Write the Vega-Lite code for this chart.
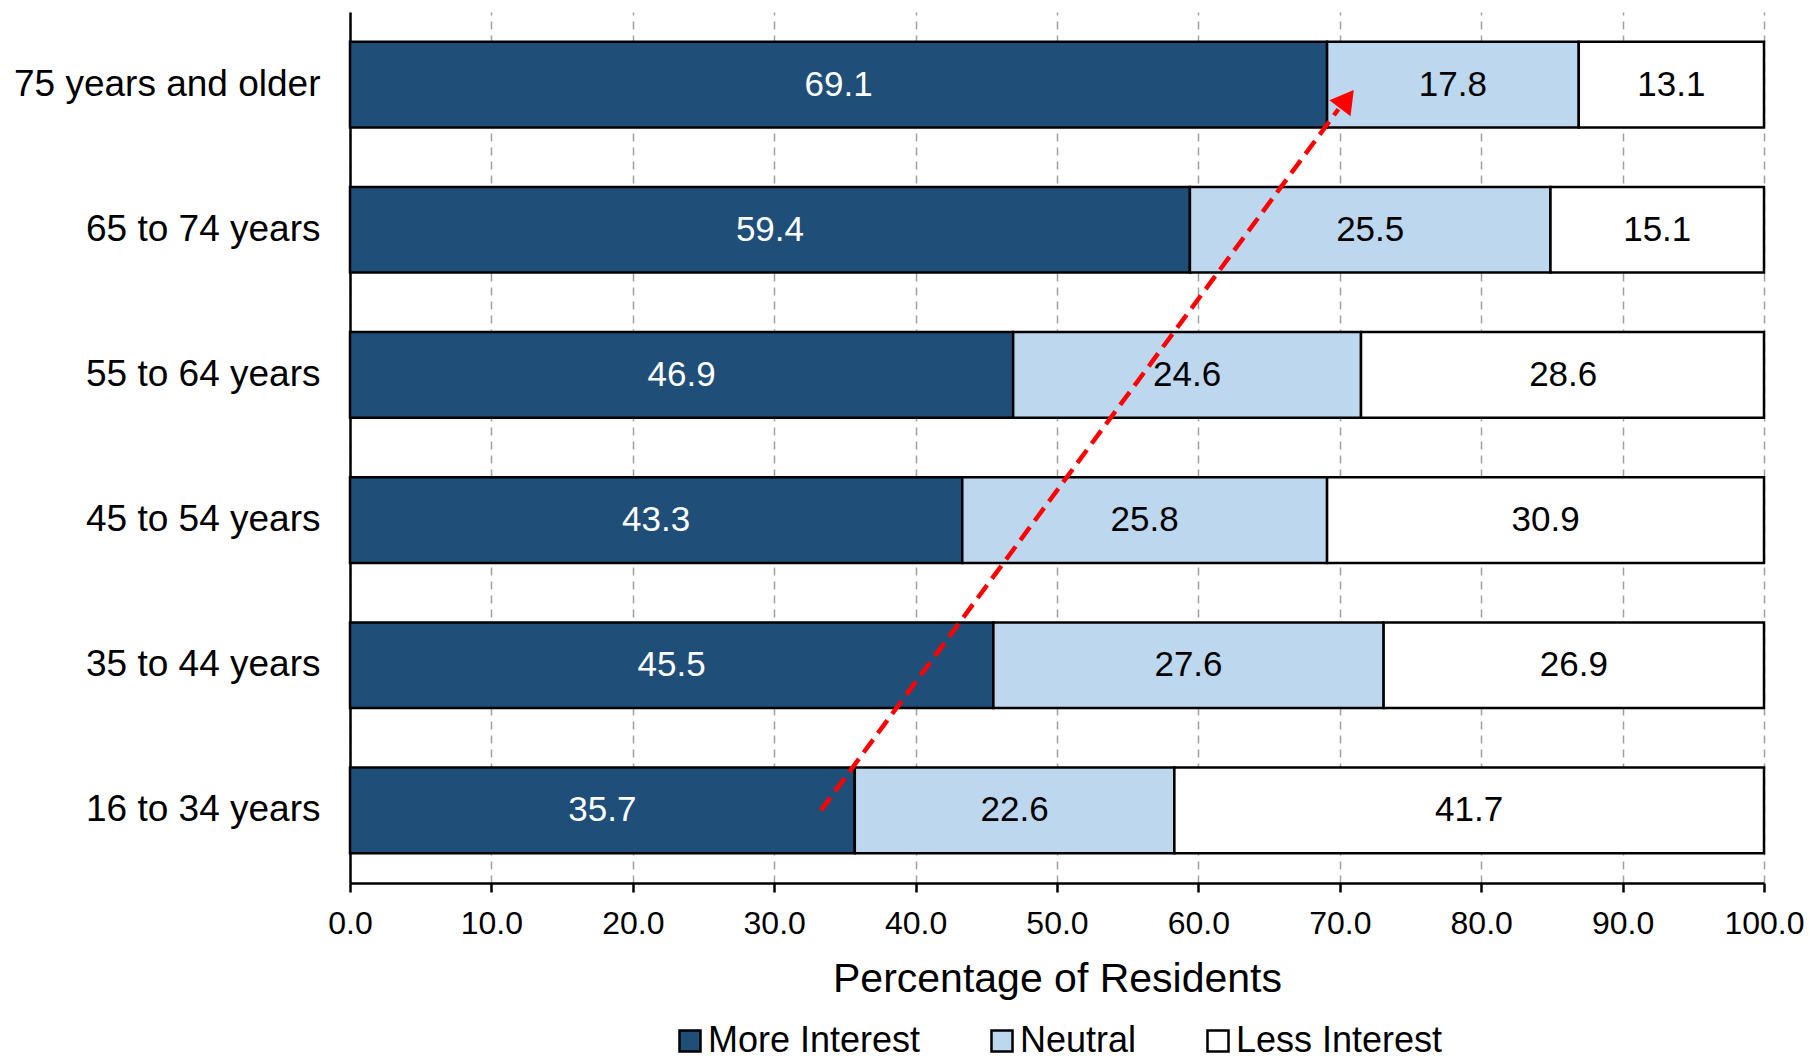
{
  "$schema": "https://vega.github.io/schema/vega-lite/v6.json",
  "width": 1414,
  "height": 871,
  "autosize": "none",
  "padding": {"left": 350, "top": 12, "right": 46, "bottom": 173},
  "background": "white",
  "config": {
    "view": {"stroke": null},
    "font": "Liberation Sans",
    "axis": {
      "domainColor": "black",
      "domainWidth": 2.5,
      "tickColor": "black",
      "tickWidth": 2.5,
      "labelColor": "black",
      "titleColor": "black",
      "labelFont": "Liberation Sans",
      "titleFont": "Liberation Sans",
      "titleFontWeight": "normal",
      "labelLimit": 0
    },
    "axisX": {
      "grid": true,
      "gridColor": "#a0a0a0",
      "gridDash": [8, 6],
      "gridWidth": 1.5,
      "tickSize": 9,
      "labelFontSize": 32,
      "labelPadding": 16,
      "labelFlush": false,
      "labelOverlap": false,
      "titleFontSize": 41,
      "titlePadding": 20,
      "format": ".1f"
    }
  },
  "layer": [
    {
      "data": {
        "values": [
          {"age": "75 years and older", "category": "More Interest", "rank": 1, "value": 69.1},
          {"age": "75 years and older", "category": "Neutral", "rank": 2, "value": 17.8},
          {"age": "75 years and older", "category": "Less Interest", "rank": 3, "value": 13.1},
          {"age": "65 to 74 years", "category": "More Interest", "rank": 1, "value": 59.4},
          {"age": "65 to 74 years", "category": "Neutral", "rank": 2, "value": 25.5},
          {"age": "65 to 74 years", "category": "Less Interest", "rank": 3, "value": 15.1},
          {"age": "55 to 64 years", "category": "More Interest", "rank": 1, "value": 46.9},
          {"age": "55 to 64 years", "category": "Neutral", "rank": 2, "value": 24.6},
          {"age": "55 to 64 years", "category": "Less Interest", "rank": 3, "value": 28.6},
          {"age": "45 to 54 years", "category": "More Interest", "rank": 1, "value": 43.3},
          {"age": "45 to 54 years", "category": "Neutral", "rank": 2, "value": 25.8},
          {"age": "45 to 54 years", "category": "Less Interest", "rank": 3, "value": 30.9},
          {"age": "35 to 44 years", "category": "More Interest", "rank": 1, "value": 45.5},
          {"age": "35 to 44 years", "category": "Neutral", "rank": 2, "value": 27.6},
          {"age": "35 to 44 years", "category": "Less Interest", "rank": 3, "value": 26.9},
          {"age": "16 to 34 years", "category": "More Interest", "rank": 1, "value": 35.7},
          {"age": "16 to 34 years", "category": "Neutral", "rank": 2, "value": 22.6},
          {"age": "16 to 34 years", "category": "Less Interest", "rank": 3, "value": 41.7}
        ]
      },
      "layer": [
        {
          "mark": {"type": "bar", "stroke": "black", "strokeWidth": 2.5},
          "encoding": {
            "y": {
              "field": "age",
              "type": "nominal",
              "sort": ["75 years and older", "65 to 74 years", "55 to 64 years", "45 to 54 years", "35 to 44 years", "16 to 34 years"],
              "scale": {"paddingInner": 0.41, "paddingOuter": 0.205},
              "axis": {"title": null, "ticks": false, "labelFontSize": 37, "labelPadding": 30, "labelLimit": 0}
            },
            "x": {
              "field": "value",
              "type": "quantitative",
              "stack": "zero",
              "scale": {"domain": [0, 100], "nice": false, "clamp": true},
              "axis": {"values": [0, 10, 20, 30, 40, 50, 60, 70, 80, 90, 100]},
              "title": "Percentage of Residents"
            },
            "order": {"field": "rank", "type": "quantitative"},
            "color": {
              "field": "category",
              "type": "nominal",
              "scale": {"domain": ["More Interest", "Neutral", "Less Interest"], "range": ["#1F4E79", "#BDD7EE", "#FFFFFF"]},
              "legend": {
                "orient": "none",
                "legendX": 322,
                "legendY": 1011,
                "direction": "horizontal",
                "title": null,
                "symbolType": "square",
                "symbolSize": 441,
                "symbolStrokeColor": "black",
                "symbolStrokeWidth": 2.5,
                "symbolOpacity": 1,
                "labelFontSize": 36,
                "labelFont": "Liberation Sans",
                "labelColor": "black",
                "labelLimit": 0,
                "columnPadding": 63,
                "labelOffset": 0
              }
            }
          }
        },
        {
          "mark": {"type": "text", "fontSize": 35, "font": "Liberation Sans", "baseline": "middle", "align": "center"},
          "encoding": {
            "y": {
              "field": "age",
              "type": "nominal",
              "sort": ["75 years and older", "65 to 74 years", "55 to 64 years", "45 to 54 years", "35 to 44 years", "16 to 34 years"]
            },
            "x": {
              "field": "value",
              "type": "quantitative",
              "stack": "zero",
              "bandPosition": 0.5,
              "axis": {"values": [0, 10, 20, 30, 40, 50, 60, 70, 80, 90, 100]},
              "title": "Percentage of Residents"
            },
            "order": {"field": "rank", "type": "quantitative"},
            "text": {"field": "value", "type": "quantitative", "format": ".1f"},
            "color": {
              "condition": {"test": "datum.category === 'More Interest'", "value": "white"},
              "value": "black"
            }
          }
        }
      ]
    },
    {
      "data": {"values": [{"xs": 33.3, "ys": 0.5, "xe": 69.9, "ye": 5.33}]},
      "mark": {"type": "rule", "color": "#FF0000", "strokeWidth": 4.5, "strokeDash": [16, 8]},
      "encoding": {
        "x": {"field": "xs", "type": "quantitative", "scale": {"domain": [0, 100], "nice": false}, "axis": {"values": [0, 10, 20, 30, 40, 50, 60, 70, 80, 90, 100]}, "title": "Percentage of Residents"},
        "x2": {"field": "xe"},
        "y": {"field": "ys", "type": "quantitative", "scale": {"domain": [0, 6], "nice": false, "zero": true}, "axis": null},
        "y2": {"field": "ye"}
      }
    },
    {
      "data": {"values": [{"xh": 70.5, "yh": 5.40}]},
      "mark": {"type": "point", "shape": "triangle-up", "size": 700, "filled": true, "color": "#FF0000", "opacity": 1, "angle": 37},
      "encoding": {
        "x": {"field": "xh", "type": "quantitative", "scale": {"domain": [0, 100], "nice": false}, "axis": {"values": [0, 10, 20, 30, 40, 50, 60, 70, 80, 90, 100]}, "title": "Percentage of Residents"},
        "y": {"field": "yh", "type": "quantitative", "scale": {"domain": [0, 6], "nice": false, "zero": true}, "axis": null}
      }
    }
  ],
  "resolve": {"scale": {"y": "independent"}, "axis": {"y": "independent"}}
}
